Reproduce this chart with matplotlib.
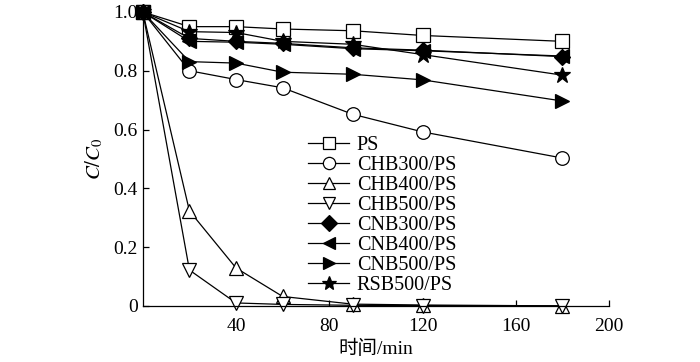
import matplotlib
matplotlib.use("Agg")
import matplotlib.pyplot as plt

plt.rcParams['font.family'] = ['Liberation Serif', 'Noto Sans CJK SC']
plt.rcParams['mathtext.fontset'] = 'stix'

# 时间 (min)
t = [0, 20, 40, 60, 90, 120, 180]

ps     = [1.0, 0.950, 0.950, 0.942, 0.936, 0.920, 0.900]
chb300 = [1.0, 0.800, 0.770, 0.742, 0.652, 0.592, 0.503]
chb400 = [1.0, 0.323, 0.129, 0.032, 0.006, 0.003, 0.0]
chb500 = [1.0, 0.122, 0.010, 0.005, 0.002, 0.001, 0.0]
cnb300 = [1.0, 0.910, 0.900, 0.893, 0.878, 0.870, 0.848]
cnb400 = [1.0, 0.900, 0.897, 0.890, 0.875, 0.868, 0.850]
cnb500 = [1.0, 0.831, 0.826, 0.795, 0.788, 0.769, 0.697]
rsb500 = [1.0, 0.933, 0.930, 0.900, 0.890, 0.855, 0.785]

series = [
    ("PS", ps, 's', 'white'),
    ("CHB300/PS", chb300, 'o', 'white'),
    ("CHB400/PS", chb400, '^', 'white'),
    ("CHB500/PS", chb500, 'v', 'white'),
    ("CNB300/PS", cnb300, 'D', 'black'),
    ("CNB400/PS", cnb400, '<', 'black'),
    ("CNB500/PS", cnb500, '>', 'black'),
    ("RSB500/PS", rsb500, '*', 'black'),
]

fig = plt.figure(figsize=(7, 3.62), dpi=100)
ax = fig.add_axes([0.204, 0.155, 0.666, 0.812])

for name, y, m, fc in series:
    ms = 12 if m == '*' else (8.5 if m == 'D' else 9.8)
    ax.plot(t, y, marker=m, color='black', markerfacecolor=fc,
            markeredgecolor='black', markersize=ms, linewidth=0.9,
            markeredgewidth=0.9, label=name, clip_on=False)

ax.set_xlim(0, 200)
ax.set_ylim(0, 1.0)
ax.set_xticks([40, 80, 120, 160, 200])
ax.set_yticks([0, 0.2, 0.4, 0.6, 0.8, 1.0])
ax.set_yticklabels(['0', '0.2', '0.4', '0.6', '0.8', '1.0'])
ax.tick_params(direction='in', labelsize=14, length=4, width=0.9)
ax.tick_params(axis='x', pad=9)
ax.spines['top'].set_visible(False)
ax.spines['right'].set_visible(False)
for s in ['left', 'bottom']:
    ax.spines[s].set_linewidth(0.9)

ax.set_xlabel('时间/min', fontsize=14, labelpad=3)
ax.set_ylabel(r'$\mathit{C}/\mathit{C}_\mathrm{0}$', fontsize=15, labelpad=6)

ax.legend(loc='upper left', bbox_to_anchor=(0.325, 0.625), frameon=False,
          fontsize=14.5, labelspacing=0.045, handlelength=2.0, handletextpad=0.4,
          borderpad=0.2, markerscale=0.9)

fig.savefig('out.png', dpi=100)
